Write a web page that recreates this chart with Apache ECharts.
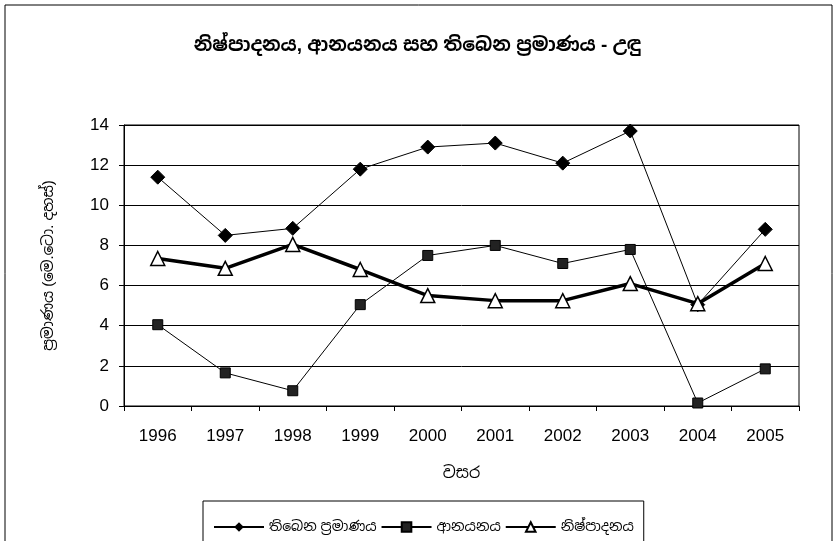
<!DOCTYPE html>
<html>
<head>
<meta charset="utf-8">
<script src="https://cdn.jsdelivr.net/npm/echarts@6/dist/echarts.min.js"></script>
<style>
html,body{margin:0;padding:0;background:#fff;}
#c{width:835px;height:541px;}
</style>
</head>
<body>
<div id="c"></div>
<script>
var years = ['1996','1997','1998','1999','2000','2001','2002','2003','2004','2005'];
var stock = [11.4, 8.5, 8.85, 11.8, 12.9, 13.1, 12.1, 13.7, 5.05, 8.8];
var imports = [4.05, 1.65, 0.76, 5.05, 7.5, 8.0, 7.1, 7.8, 0.15, 1.85];
var production = [7.35, 6.86, 8.05, 6.8, 5.5, 5.25, 5.25, 6.1, 5.1, 7.1];
var seriesNames = ['තිබෙන ප්‍රමාණය', 'ආනයනය', 'නිෂ්පාදනය'];
var yTicks = [0, 2, 4, 6, 8, 10, 12, 14];

var fontFam = 'Arial, "Liberation Sans", "Noto Sans Sinhala", sans-serif';
var chart = echarts.init(document.getElementById('c'));
chart.setOption({
  animation: false,
  backgroundColor: '#fff',
  textStyle: {fontFamily: fontFam, color: '#000'},
  title: {
    text: 'නිෂ්පාදනය, ආනයනය සහ තිබෙන ප්‍රමාණය - උඳු',
    left: 'center', top: 31,
    textStyle: {fontSize: 19, fontWeight: 'bold', color: '#000', fontFamily: fontFam}
  },
  graphic: [{
    type: 'rect', shape: {x: 5, y: 5, width: 827, height: 540},
    style: {fill: 'none', stroke: '#000', lineWidth: 1}, silent: true
  }],
  grid: {left: 124, right: 36, top: 125, bottom: 135, show: true, borderColor: '#000', borderWidth: 1},
  legend: {
    left: 203, top: 501, width: 475,
    padding: [19, 10, 12, 10],
    borderColor: '#000', borderWidth: 1,
    itemWidth: 50, itemHeight: 12, itemGap: 4,
    textStyle: {fontSize: 14, color: '#000', fontFamily: fontFam},
    data: seriesNames
  },
  xAxis: {
    type: 'category', data: years, boundaryGap: true,
    name: 'වසර', nameLocation: 'middle', nameGap: 60,
    nameTextStyle: {fontSize: 16, color: '#000', fontFamily: fontFam},
    axisLine: {lineStyle: {color: '#000', width: 1}},
    axisTick: {show: true, alignWithLabel: false, length: 5, lineStyle: {color: '#000'}},
    axisLabel: {fontSize: 17, color: '#000', margin: 22, fontFamily: fontFam}
  },
  yAxis: {
    type: 'value', min: 0, max: 14, interval: 2,
    name: 'ප්‍රමාණය (මෙ.ටො. දහස්)', nameLocation: 'middle', nameGap: 68, nameRotate: 90,
    nameTextStyle: {fontSize: 15, color: '#000', fontFamily: fontFam},
    axisLine: {show: true, lineStyle: {color: '#000', width: 1}},
    axisTick: {show: true, length: 5, lineStyle: {color: '#000'}},
    axisLabel: {fontSize: 17, color: '#000', margin: 15, fontFamily: fontFam,
      formatter: function (v) { return yTicks.indexOf(v) >= 0 ? String(v) : ''; }},
    splitLine: {show: true, lineStyle: {color: '#000', width: 1}}
  },
  series: [{
    name: seriesNames[0], type: 'line', data: stock,
    symbol: 'diamond', symbolSize: 14,
    lineStyle: {color: '#000', width: 1},
    itemStyle: {color: '#000', borderColor: '#000'}
  }, {
    name: seriesNames[1], type: 'line', data: imports,
    symbol: 'rect', symbolSize: 10,
    lineStyle: {color: '#000', width: 1},
    itemStyle: {color: '#222', borderColor: '#000', borderWidth: 1}
  }, {
    name: seriesNames[2], type: 'line', data: production,
    symbol: 'triangle', symbolSize: 14,
    lineStyle: {color: '#000', width: 3.5},
    itemStyle: {color: '#fff', borderColor: '#000', borderWidth: 1.5}
  }]
});
</script>
</body>
</html>
